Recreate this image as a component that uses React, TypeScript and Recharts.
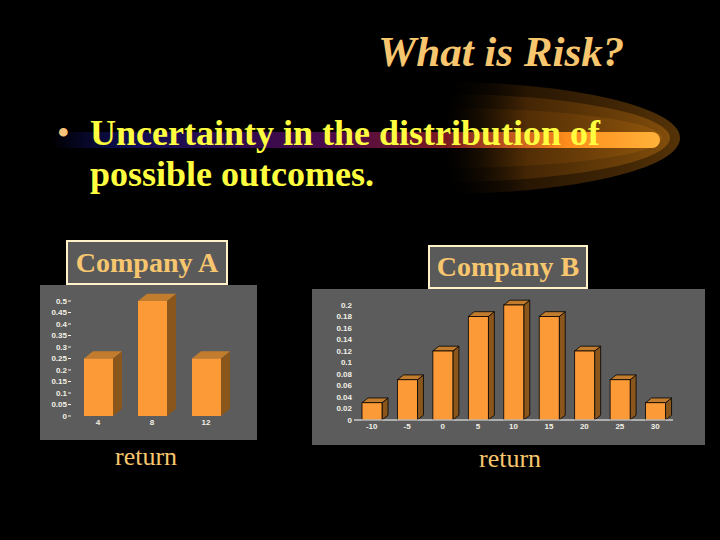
import React from 'react';
import { BarChart, Bar, XAxis, YAxis } from 'recharts';

const companyAReturns = ['4', '8', '12'];
const companyAProbs = [0.25, 0.5, 0.25];
const companyATicks = [0, 0.05, 0.1, 0.15, 0.2, 0.25, 0.3, 0.35, 0.4, 0.45, 0.5];

const companyBReturns = ['-10', '-5', '0', '5', '10', '15', '20', '25', '30'];
const companyBProbs = [0.03, 0.07, 0.12, 0.18, 0.2, 0.18, 0.12, 0.07, 0.03];
const companyBTicks = [0, 0.02, 0.04, 0.06, 0.08, 0.1, 0.12, 0.14, 0.16, 0.18, 0.2];

const dataA = companyAReturns.map((r, i) => ({ name: r, value: companyAProbs[i] }));
const dataB = companyBReturns.map((r, i) => ({ name: r, value: companyBProbs[i] }));

const SERIF = '"Liberation Serif", "Times New Roman", serif';
const SANS = '"Liberation Sans", Arial, sans-serif';
const GOLD = '#f7c66e';
const PANEL = '#5c5c5c';

// front face + top + side, drawn from the bar rect recharts hands us
const make3DBar = (depth: number, outline: string) => (props: any) => {
  const { x, y, width, height } = props;
  if (!height || height <= 0) return <g />;
  const dx = depth;
  const dy = depth * 0.8;
  const top = `${x},${y} ${x + dx},${y - dy} ${x + width + dx},${y - dy} ${x + width},${y}`;
  const side = `${x + width},${y} ${x + width + dx},${y - dy} ${x + width + dx},${y + height - dy} ${x + width},${y + height}`;
  return (
    <g>
      <polygon points={side} fill="#8a561c" stroke={outline} strokeWidth={0.8} />
      <polygon points={top} fill="#c27c2e" stroke={outline} strokeWidth={0.8} />
      <rect x={x} y={y} width={width} height={height} fill="#fd9a38" stroke={outline} strokeWidth={0.8} />
    </g>
  );
};

const tickStyle = { fill: '#f2f0e6', fontSize: 8, fontWeight: 700, fontFamily: SANS };

const LabelBox: React.FC<{ text: string; left: number; top: number; width: number; height: number }> = ({ text, left, top, width, height }) => (
  <div
    style={{
      position: 'absolute',
      left,
      top,
      width,
      height,
      boxSizing: 'border-box',
      background: '#5a5a5a',
      border: '2px solid #fff2c8',
      color: GOLD,
      fontFamily: SERIF,
      fontWeight: 700,
      fontSize: 28,
      display: 'flex',
      alignItems: 'center',
      justifyContent: 'center',
      whiteSpace: 'nowrap',
    }}
  >
    {text}
  </div>
);

const Swoosh = () => (
  <svg width={720} height={220} style={{ position: 'absolute', left: 0, top: 0 }}>
    <defs>
      <linearGradient id="stripe" x1="50" y1="0" x2="660" y2="0" gradientUnits="userSpaceOnUse">
        <stop offset="0" stopColor="#000000" />
        <stop offset="0.12" stopColor="#0e0e52" />
        <stop offset="0.45" stopColor="#4a0a4a" />
        <stop offset="0.65" stopColor="#7a1a20" />
        <stop offset="0.85" stopColor="#ff8e1c" />
        <stop offset="1" stopColor="#ffb23a" />
      </linearGradient>
      <linearGradient id="glow" x1="440" y1="0" x2="690" y2="0" gradientUnits="userSpaceOnUse">
        <stop offset="0" stopColor="#000000" stopOpacity={0} />
        <stop offset="0.35" stopColor="#5a3206" stopOpacity={0.8} />
        <stop offset="1" stopColor="#a0600e" />
      </linearGradient>
      <clipPath id="half">
        <rect x={440} y={0} width={280} height={220} />
      </clipPath>
    </defs>
    <g clipPath="url(#half)">
      <ellipse cx={440} cy={138} rx={240} ry={56} fill="url(#glow)" opacity={0.55} />
      <ellipse cx={440} cy={138} rx={230} ry={44} fill="url(#glow)" opacity={0.7} />
      <ellipse cx={440} cy={138} rx={222} ry={30} fill="url(#glow)" opacity={0.85} />
    </g>
    <rect x={50} y={132} width={610} height={16} rx={8} fill="url(#stripe)" />
  </svg>
);

const App: React.FC = () => {
  return (
    <div
      style={{
        position: 'absolute',
        left: 0,
        top: 0,
        width: 720,
        height: 540,
        background: '#000',
        overflow: 'hidden',
      }}
    >
      <Swoosh />

      <div
        style={{
          position: 'absolute',
          left: 378,
          top: 22,
          fontFamily: SERIF,
          fontStyle: 'italic',
          fontWeight: 700,
          fontSize: 43,
          lineHeight: '60px',
          color: GOLD,
          whiteSpace: 'nowrap',
        }}
      >
        What is Risk?
      </div>

      <div style={{ position: 'absolute', left: 57, top: 113, width: 30, fontFamily: SERIF, fontSize: 36, lineHeight: '41px', color: '#f9c27a' }}>•</div>
      <div style={{ position: 'absolute', left: 90, top: 113, fontFamily: SERIF, fontWeight: 700, fontSize: 36, color: '#ffff40', lineHeight: '41px', whiteSpace: 'nowrap' }}>
        Uncertainty in the distribution of
        <br />
        possible outcomes.
      </div>

      <LabelBox text="Company A" left={66} top={240} width={162} height={45} />
      <LabelBox text="Company B" left={428} top={245} width={160} height={44} />

      <div style={{ position: 'absolute', left: 40, top: 285, width: 217, height: 155, background: PANEL }}>
        <BarChart width={217} height={155} data={dataA} margin={{ top: 16, right: 24, bottom: 10, left: 0 }}>
          <XAxis dataKey="name" height={14} axisLine={false} tickLine={false} tickSize={0} tickMargin={3} tick={tickStyle} interval={0} />
          <YAxis
            width={31}
            domain={[0, 0.5]}
            ticks={companyATicks}
            interval={0}
            axisLine={false}
            tickLine={{ stroke: '#f2f0e6' }}
            tickSize={3}
            tickMargin={1}
            tick={tickStyle}
          />
          <Bar dataKey="value" barSize={29} shape={make3DBar(9, 'none')} isAnimationActive={false} />
        </BarChart>
      </div>

      <div style={{ position: 'absolute', left: 312, top: 289, width: 393, height: 156, background: PANEL }}>
        <BarChart width={393} height={156} data={dataB} margin={{ top: 16, right: 32, bottom: 11, left: 0 }}>
          <XAxis dataKey="name" height={14} axisLine={{ stroke: '#ffffff', strokeWidth: 1 }} tickLine={false} tickSize={0} tickMargin={3} tick={tickStyle} interval={0} />
          <YAxis
            width={42}
            domain={[0, 0.2]}
            ticks={companyBTicks}
            interval={0}
            axisLine={false}
            tickLine={false}
            tickSize={0}
            tickMargin={2}
            tick={tickStyle}
          />
          <Bar dataKey="value" barSize={20} shape={make3DBar(6, '#000')} isAnimationActive={false} />
        </BarChart>
      </div>

      <div style={{ position: 'absolute', left: 115, top: 442, fontFamily: SERIF, fontSize: 26, color: GOLD }}>return</div>
      <div style={{ position: 'absolute', left: 479, top: 444, fontFamily: SERIF, fontSize: 26, color: GOLD }}>return</div>
    </div>
  );
};

export default App;
